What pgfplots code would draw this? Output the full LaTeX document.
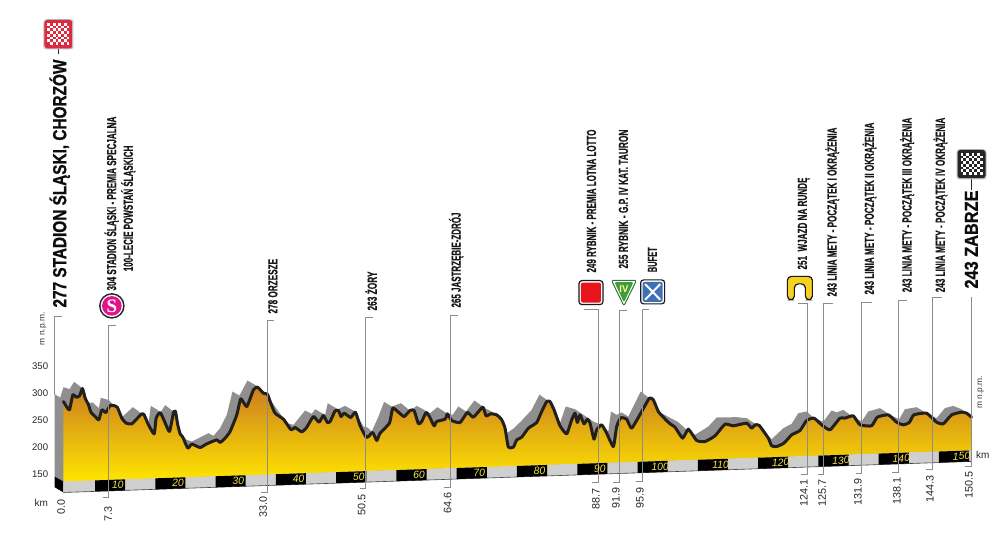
\documentclass[border=0pt]{standalone}
\usepackage{pgfplots}
\pgfplotsset{compat=1.18}
\usepackage{fontspec}
\usepackage{graphicx}
\setmainfont{Liberation Sans}
\newfontfamily\serfont{Liberation Serif}
\newfontfamily\heavyfont[BoldFeatures={FakeBold=1.2}]{Liberation Sans}
\newfontfamily\midfont[BoldFeatures={FakeBold=0.5}]{Liberation Sans}
\definecolor{shadowgray}{HTML}{918E90}
\definecolor{bandgray}{HTML}{CFCFCF}
\definecolor{prof}{HTML}{231F1A}
\definecolor{kmyellow}{HTML}{F6E24A}
\definecolor{leader}{HTML}{8C8C8C}
\definecolor{flagred}{HTML}{DC2A40}
\definecolor{smag}{HTML}{E5108C}
\definecolor{sprintred}{HTML}{E8141C}
\definecolor{climbdark}{HTML}{2D7A2F}
\definecolor{climbgreen}{HTML}{3F9C3B}
\definecolor{feedblue}{HTML}{3F6FB5}
\definecolor{lapyellow}{HTML}{F5D21F}
% fit text to a length (in picture pixels: 1px = 0.5pt), natural height kept
\newcommand\fitw[2]{\resizebox{#1pt}{\height}{#2}}
\newcommand\kmblock[6]{\addplot[fill=black,draw=none] coordinates {(#1,#3) (#2,#4) (#2,#6) (#1,#5)} --cycle;}
\begin{document}
\begin{tikzpicture}
\begin{axis}[
  at={(0,0)}, anchor=south west,
  scale only axis, width=500pt, height=266.5pt,
  xmin=-10.73, xmax=155.1, ymin=40.7, ymax=1027.8,
  axis line style={draw=none}, major tick length=0pt,
  xtick=\empty, ytick={150,200,250,300,350},
  /pgf/number format/assume math mode=true,
  yticklabel style={xshift=27.5pt,font=\fontsize{4.8}{6}\selectfont,text=black!85},
  clip=false,
  line join=round,
]
% grey relief shadow, with the left face of the block
\addplot[fill=shadowgray,draw=none] coordinates {
(-1.72,145)(-1.72,297.5)(-0.78,291.3)(-0.23,310.5)(0.77,306.8)(1.54,320.3)(2.70,310.5)(3.75,280.8)(4.64,282.1)(5.63,271.6)(5.96,290.7)(7.24,287)(8.34,274.7)(9.61,256.2)(11.27,273.4)(12.49,263.6)(13.87,243.8)(14.26,275.9)(15.36,268.5)(15.80,262.3)(16.63,277.1)(18.02,265.4)(18.73,240.7)(19.40,222.2)(20.23,212.9)(21.06,209.8)(23.82,225.3)(24.65,220.3)(25.75,234.5)(26.86,259.2)(27.80,302.4)(28.96,295)(30.29,322.8)(31.83,312.9)(33.49,296.3)(36.81,243.8)(37.92,240.7)(39.85,267.3)(40.96,261.1)(41.51,269.7)(43.17,259.2)(43.61,280.8)(44.99,271.6)
(45.11,268.5)(46.49,275.9)(48.15,265.4)(49.53,237.6)(50.19,235.8)(50.91,228.4)(52.02,256.1)(52.96,283.3)(54.23,274.7)(55.77,280.8)(57.27,266.6)(58.37,275.9)(60.58,262.3)(61.80,273.4)(63.35,262.3)(64.34,259.2)(65.28,274.7)(66.55,265.4)(67.94,285.8)(69.70,271.6)(71.09,263.6)(72.47,250)(73.30,225.3)(74.51,234.5)(75.79,248.7)(77.44,268.5)(78.72,296.9)(79.93,287)(81.15,268.5)(82.14,243.8)(83.08,274.7)(84.63,269.7)(87.67,246.9)(89.05,240.7)(90.16,228.4)(90.60,265.4)(91.54,259.2)(92.37,263.6)(93.48,256.1)(95.52,302.4)(97.34,287)(98.45,265.4)
(101.77,245.6)(103.15,231.5)(104.53,222.2)(106.75,237.6)(108.13,254.3)(111.44,254.9)(113.10,253.1)(114.49,242.6)(117.25,214.2)(119.18,234.5)(120.57,242.6)(121.67,262.3)(123.05,265.4)(124.27,253.1)(125.82,246.9)(127.20,267.3)(128.03,263.6)(129.13,268.5)(130.51,257.4)(132.17,246.9)(133.28,265.4)(135.21,271.6)(136.87,259.2)(138.42,251.2)(139.36,269.7)(141.29,273.4)(142.95,262.3)(144.61,253.1)(145.99,271.6)(147.37,275.9)(148.76,269.7)(150.42,254.9)
(150.42,193.3)(-0.23,135.8)} --cycle;
% black left side of the road band
\addplot[fill=black,draw=none] coordinates {(-1.72,145)(-0.23,135.8)(-0.23,115.4)(-1.72,125.3)} --cycle;
% golden profile
\addplot[draw=none,shade,top color={rgb,255:red,204;green,126;blue,30},middle color={rgb,255:red,244;green,184;blue,14},bottom color={rgb,255:red,255;green,230;blue,0}] coordinates {
(-0.23,135.8)(-0.23,283.9)(0.33,273.4)(0.77,268.5)(1.32,296.3)(1.87,291.9)(2.43,294.4)(2.92,308)(3.37,290.1)(3.92,277.7)(4.31,264.2)(5.02,256.2)(5.63,250)(6.13,268.5)(6.79,263.6)(7.51,276.5)(8.34,275.9)(8.73,272.8)(9.45,253.1)(10.17,243.8)(11.11,242.6)(11.93,251.8)(12.76,261.1)(13.15,259.2)(13.87,240.7)(14.81,224)(15.14,253.1)(15.80,263.6)(16.47,248.7)(17.35,228.4)(18.02,263.6)(18.35,265.4)(18.73,240.7)(19.12,224)(19.56,217.9)(20.39,197.5)(21.06,204.9)(22.44,198.7)(23.54,205.5)(25.20,212.9)(25.75,208)(26.58,216)(27.41,228.4)(28.52,259.2)(29.18,288.9)(30.18,274.7)(31.28,305.5)(31.95,310.5)(32.94,299.4)(33.60,297.5)(34.16,280.8)(34.87,262.3)(36.26,251.2)(37.53,231.5)(38.19,235.8)(39.30,227.7)(40.13,236.4)(41.23,256.1)(42.17,245.6)(42.89,258)(43.55,245)
(44.00,246.9)(44.83,266.6)(45.38,267.3)(45.82,256.1)(46.32,262.3)(47.43,254.3)(48.20,264.2)(48.98,238.9)(49.97,217.9)(50.36,219.1)(51.08,226.5)(51.74,211.7)(52.29,225.3)(53.84,243.8)(54.39,271.6)(55.33,264.2)(56.27,256.1)(57.27,267.3)(57.93,267.3)(58.65,242.6)(59.20,246.9)(59.92,263.6)(60.47,256.1)(61.25,238.9)(61.69,246.9)(63.07,251.2)(63.46,261.1)(64.18,248.7)(65.56,245)(66.77,263.6)(67.77,254.9)(69.32,273.4)(69.87,257.4)(70.64,261.1)(71.64,259.2)(72.47,250)(73.02,234.5)(73.57,199.4)(74.40,199.4)(74.96,212.9)(75.79,217.9)(76.89,234.5)(78.27,245)(79.10,265.4)(79.93,283.9)(80.48,283.9)(81.15,268.5)(82.14,238.9)(83.25,224)(84.08,250)(84.63,262.3)(85.02,245)(85.46,259.2)(86.12,242.6)(86.68,251.2)(87.12,243.8)(87.78,214.2)(88.22,231.5)(89.05,240.7)(89.88,225.3)(90.99,200.6)(91.54,237.6)(92.20,253.7)(93.20,251.2)(94.03,234.5)(95.69,265.4)(96.96,290.1)(97.62,287)(98.45,265.4)(99.28,254.9)
(100.39,242.6)(101.22,236.4)(102.49,216)(103.43,232.7)(104.81,211.7)(106.19,209.8)(107.85,220.3)(109.51,241.9)(110.89,238.9)(113.10,243.8)(113.93,234.5)(114.49,240.7)(115.20,239.5)(116.70,216)(117.25,201.8)(118.08,200.6)(119.29,206.8)(120.57,222.2)(121.95,230.2)(123.05,248.7)(124.27,253.1)(125.54,240.7)(126.92,231.5)(128.58,253.1)(129.41,253.1)(130.79,257.4)(131.90,240.7)(133.83,238.9)(134.77,254.9)(136.60,259.2)(137.98,245.6)(139.08,240.7)(140.08,245)(140.85,259.2)(142.95,262.3)(144.61,245.6)(145.72,242.6)(147.10,259.2)(148.76,264.2)(149.59,262.3)(150.42,254.9)
(150.42,193.3)} --cycle;
% road band
\addplot[fill=bandgray,draw=none] coordinates {(-0.23,135.8)(150.42,193.3)(150.42,172.9)(-0.23,115.4)} --cycle;
\addplot[draw=black!75,line width=0.3pt] coordinates {(-0.23,115.4)(150.42,172.9)};
% 10 km marks
\kmblock{5}{10}{137.76}{139.67}{117.36}{119.27}
\kmblock{15}{20}{141.58}{143.49}{121.18}{123.09}
\kmblock{25}{30}{145.40}{147.31}{125.00}{126.91}
\kmblock{35}{40}{149.22}{151.13}{128.82}{130.73}
\kmblock{45}{50}{153.04}{154.95}{132.64}{134.55}
\kmblock{55}{60}{156.86}{158.77}{136.46}{138.37}
\kmblock{65}{70}{160.68}{162.59}{140.28}{142.19}
\kmblock{75}{80}{164.50}{166.41}{144.10}{146.01}
\kmblock{85}{90}{168.32}{170.23}{147.92}{149.83}
\kmblock{95}{100}{172.14}{174.05}{151.74}{153.65}
\kmblock{105}{110}{175.96}{177.87}{155.56}{157.47}
\kmblock{115}{120}{179.78}{181.69}{159.38}{161.29}
\kmblock{125}{130}{183.60}{185.51}{163.20}{165.11}
\kmblock{135}{140}{187.42}{189.33}{167.02}{168.93}
\kmblock{145}{150}{191.24}{193.15}{170.84}{172.75}
% the profile line
\addplot[draw=prof,line width=1.5pt,line join=round,line cap=round,smooth,tension=0.3] coordinates {
(-0.23,283.9)(0.33,273.4)(0.77,268.5)(1.32,296.3)(1.87,291.9)(2.43,294.4)(2.92,308)(3.37,290.1)(3.92,277.7)(4.31,264.2)(5.02,256.2)(5.63,250)(6.13,268.5)(6.79,263.6)(7.51,276.5)(8.34,275.9)(8.73,272.8)(9.45,253.1)(10.17,243.8)(11.11,242.6)(11.93,251.8)(12.76,261.1)(13.15,259.2)(13.87,240.7)(14.81,224)(15.14,253.1)(15.80,263.6)(16.47,248.7)(17.35,228.4)(18.02,263.6)(18.35,265.4)(18.73,240.7)(19.12,224)(19.56,217.9)(20.39,197.5)(21.06,204.9)(22.44,198.7)(23.54,205.5)(25.20,212.9)(25.75,208)(26.58,216)(27.41,228.4)(28.52,259.2)(29.18,288.9)(30.18,274.7)(31.28,305.5)(31.95,310.5)(32.94,299.4)(33.60,297.5)(34.16,280.8)(34.87,262.3)(36.26,251.2)(37.53,231.5)(38.19,235.8)(39.30,227.7)(40.13,236.4)(41.23,256.1)(42.17,245.6)(42.89,258)(43.55,245)
(44.00,246.9)(44.83,266.6)(45.38,267.3)(45.82,256.1)(46.32,262.3)(47.43,254.3)(48.20,264.2)(48.98,238.9)(49.97,217.9)(50.36,219.1)(51.08,226.5)(51.74,211.7)(52.29,225.3)(53.84,243.8)(54.39,271.6)(55.33,264.2)(56.27,256.1)(57.27,267.3)(57.93,267.3)(58.65,242.6)(59.20,246.9)(59.92,263.6)(60.47,256.1)(61.25,238.9)(61.69,246.9)(63.07,251.2)(63.46,261.1)(64.18,248.7)(65.56,245)(66.77,263.6)(67.77,254.9)(69.32,273.4)(69.87,257.4)(70.64,261.1)(71.64,259.2)(72.47,250)(73.02,234.5)(73.57,199.4)(74.40,199.4)(74.96,212.9)(75.79,217.9)(76.89,234.5)(78.27,245)(79.10,265.4)(79.93,283.9)(80.48,283.9)(81.15,268.5)(82.14,238.9)(83.25,224)(84.08,250)(84.63,262.3)(85.02,245)(85.46,259.2)(86.12,242.6)(86.68,251.2)(87.12,243.8)(87.78,214.2)(88.22,231.5)(89.05,240.7)(89.88,225.3)(90.99,200.6)(91.54,237.6)(92.20,253.7)(93.20,251.2)(94.03,234.5)(95.69,265.4)(96.96,290.1)(97.62,287)(98.45,265.4)(99.28,254.9)
(100.39,242.6)(101.22,236.4)(102.49,216)(103.43,232.7)(104.81,211.7)(106.19,209.8)(107.85,220.3)(109.51,241.9)(110.89,238.9)(113.10,243.8)(113.93,234.5)(114.49,240.7)(115.20,239.5)(116.70,216)(117.25,201.8)(118.08,200.6)(119.29,206.8)(120.57,222.2)(121.95,230.2)(123.05,248.7)(124.27,253.1)(125.54,240.7)(126.92,231.5)(128.58,253.1)(129.41,253.1)(130.79,257.4)(131.90,240.7)(133.83,238.9)(134.77,254.9)(136.60,259.2)(137.98,245.6)(139.08,240.7)(140.08,245)(140.85,259.2)(142.95,262.3)(144.61,245.6)(145.72,242.6)(147.10,259.2)(148.76,264.2)(149.59,262.3)(150.42,254.9)};
\end{axis}
% annotations, in picture pixels (origin top left)
\begin{scope}[shift={(0,266.5pt)},x=0.5pt,y=-0.5pt]
 % leaders: x, top y, bottom y, top tick end x, bottom tick end x
 \foreach \x/\t/\b/\tt/\tb in {108.3/326/498/116/103, 267/321/492.7/274/260.6, 365/318/489/372.7/360, 450/315.7/487.3/457.7/444, 598.3/310/482.7/584/592, 619.3/311/482.7/626.7/613, 642.3/310/481.7/649/636, 807.7/304/475/798/801, 824/304/475/832.7/817.7, 862/303/474/871.7/856, 898.3/301/472.7/907/891.7, 932.7/298/470/941.7/926, 971.7/297/466.7/971.7/965}
   \draw[leader,line width=0.4pt] (\tt,\t)--(\x,\t)--(\x,\b)--(\tb,\b);
 \draw[leader,line width=0.4pt] (61.5,316.7)--(54.5,316.7)--(54.5,395);
 % km positions
 \foreach \x/\y/\s in {61/507/0.0,108/514/7.3,263/507/33.0,361.7/505/50.5,447.7/502.7/64.6,596/499/88.7,616/497.7/91.9,640/497.7/95.9,804/493/124.1,822.3/492.7/125.7,858/491.7/131.9,897/490.7/138.1,930/489/144.3,969/485/150.5}
   \node[rotate=90,inner sep=0,font=\fontsize{5.4}{6}\selectfont,text=black!85] at (\x,\y) {\s};
 % axis captions
 \node[rotate=90,inner sep=0,font=\fontsize{4.2}{5}\selectfont,text=black!80] at (43,329) {m n.p.m.};
 \node[rotate=90,inner sep=0,font=\fontsize{4.2}{5}\selectfont,text=black!80] at (981,392.7) {m n.p.m.};
 \node[inner sep=0,font=\fontsize{5}{6}\selectfont,text=black!85] at (41,503) {km};
 \node[inner sep=0,font=\fontsize{5}{6}\selectfont,text=black!85] at (983,455) {km};
 % km numbers on the road band
 \foreach \k in {10,20,...,150}{
   \pgfmathsetmacro\px{64.7+6.03*\k-7.5}
   \pgfmathsetmacro\py{487.4-0.2062*\k}
   \node[rotate=2,inner sep=0,font=\fontsize{5.2}{6}\selectfont\itshape,text=kmyellow] at (\px,\py) {\k};
 }
 % big names
 \begin{scope}[every node/.style={rotate=90,anchor=base west,inner sep=0,font=\heavyfont\fontsize{9.4}{11}\selectfont\bfseries,text=black!95}]
  \node at (66,308) {\fitw{124}{277 STADION ŚLĄSKI, CHORZÓW}};
  \node at (978,289) {\fitw{49}{243 ZABRZE}};
 \end{scope}
 % place names
 \begin{scope}[every node/.style={rotate=90,anchor=base west,inner sep=0,font=\midfont\fontsize{6.6}{8}\selectfont\bfseries,text=black!90}]
  \node at (116,291) {\fitw{87}{304 STADION ŚLĄSKI - PREMIA SPECJALNA}};
  \node at (132.7,271.7) {\fitw{62.8}{100-LECIE POWSTAŃ ŚLĄSKICH}};
  \node at (277.3,314) {\fitw{27.3}{278 ORZESZE}};
  \node at (376.7,311) {\fitw{19.5}{263 ŻORY}};
  \node at (460.7,308) {\fitw{47.5}{265 JASTRZĘBIE-ZDRÓJ}};
  \node at (596,273) {\fitw{71.5}{249 RYBNIK - PREMIA LOTNA LOTTO}};
  \node at (628,269) {\fitw{69.5}{255 RYBNIK - G.P. IV KAT. TAURON}};
  \node at (657,272.7) {\fitw{12.5}{BUFET}};
  \node at (807,270) {\fitw{46}{251\ \ WJAZD NA RUNDĘ}};
  \node at (836.7,297) {\fitw{84.5}{243 LINIA METY - POCZĄTEK I OKRĄŻENIA}};
  \node at (874,295) {\fitw{86}{243 LINIA METY - POCZĄTEK II OKRĄŻENIA}};
  \node at (911.7,292.7) {\fitw{87.3}{243 LINIA METY - POCZĄTEK III OKRĄŻENIA}};
  \node at (945,292.7) {\fitw{87.3}{243 LINIA METY - POCZĄTEK IV OKRĄŻENIA}};
 \end{scope}
 % start flag
 \draw[black!85,line width=0.5pt] (58.3,48)--(58.3,54);
 \fill[black!25,rounded corners=1.5pt] (43.3,19.2) rectangle (73.3,49.5);
 \begin{scope}
  \path[clip,rounded corners=1.5pt] (44.3,20) rectangle (72.3,48.3);
  \fill[flagred] (44,19) rectangle (73,49);
  \foreach \i in {0,...,7}\foreach \j in {0,...,7}{
    \pgfmathtruncatemacro\m{mod(\i+\j,2)}
    \ifnum\m=0 \fill[white] (47.3+\i*2.75,23+\j*2.75) rectangle ++(2.75,2.75);\fi
  }
 \end{scope}
 % finish flag
 \draw[black!85,line width=0.5pt] (971.7,178)--(971.7,190);
 \fill[black!25,rounded corners=1.5pt] (956.7,149.2) rectangle (986.7,179.5);
 \begin{scope}
  \path[clip,rounded corners=1.5pt] (957.7,150) rectangle (985.7,178.3);
  \fill[black!85] (957,149) rectangle (986,179);
  \foreach \i in {0,...,7}\foreach \j in {0,...,7}{
    \pgfmathtruncatemacro\m{mod(\i+\j,2)}
    \ifnum\m=0 \fill[white] (960.7+\i*2.75,153+\j*2.75) rectangle ++(2.75,2.75);\fi
  }
 \end{scope}
 % S sign
 \fill[black!85] (111.7,306) circle (6.4pt);
 \fill[white] (111.7,306) circle (5.6pt);
 \fill[smag] (111.7,306) circle (4.9pt);
 \node[inner sep=0,font=\serfont\fontsize{9.5}{10}\selectfont\bfseries,text=white] at (111.7,306) {S};
 % sprint sign
 \draw[black!90,fill=white,line width=0.6pt,rounded corners=1.5pt] (579,280.7) rectangle (603,304.7);
 \fill[sprintred,rounded corners=1pt] (581,282.7) rectangle (601,302.7);
 % climb sign
 \draw[climbdark,fill=white,line width=0.5pt,rounded corners=1pt] (611.5,280.5)--(636.5,280.5)--(624,306)--cycle;
 \fill[climbgreen,rounded corners=0.7pt] (614.5,282.3)--(633.5,282.3)--(624,302.5)--cycle;
 \node[inner sep=0,font=\fontsize{5}{6}\selectfont\bfseries,text=yellow!40!white] at (624,289.5) {\fitw{4.5}{IV}};
 % feed sign
 \draw[black!90,fill=white,line width=0.6pt,rounded corners=1.5pt] (640.7,280) rectangle (664.7,304);
 \fill[feedblue,rounded corners=1pt] (642.7,282) rectangle (662.7,302);
 \draw[white,line width=1.0pt,line cap=round] (645.5,284.5)--(660,299.5) (660,284.5)--(645.5,299.5);
 % lap sign
 \draw[fill=lapyellow,draw=black!90,line width=0.6pt,rounded corners=2pt] (787.5,300)--(787.5,276.5)--(812.5,276.5)--(812.5,300)--(805.5,300)--(805.5,284)--(794.5,284)--(794.5,300)--cycle;
\end{scope}
\end{tikzpicture}
\end{document}
